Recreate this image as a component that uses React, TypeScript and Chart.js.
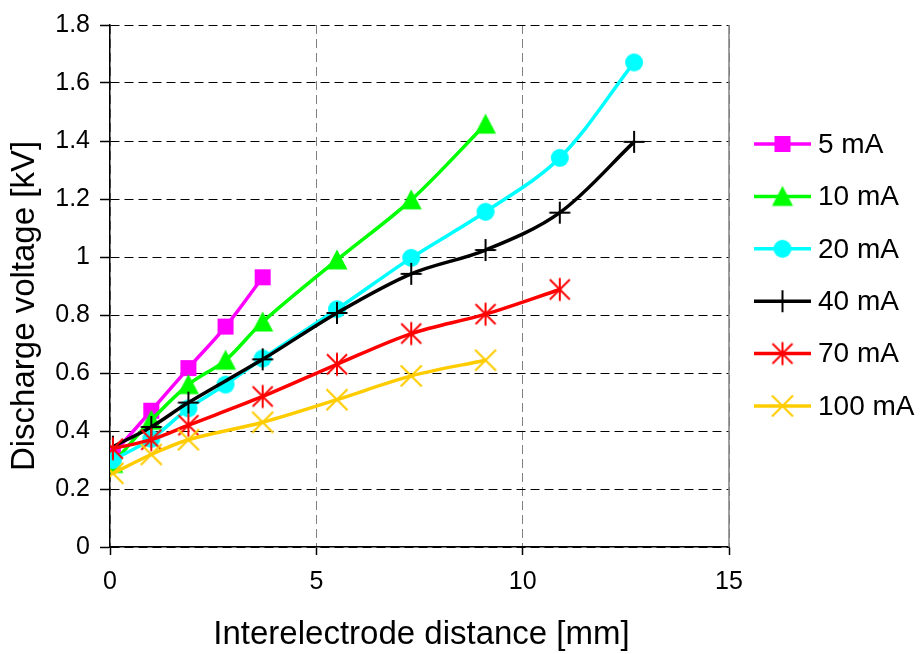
import React, { useEffect, useRef } from 'react';
import { Chart, registerables } from 'chart.js';

Chart.register(...registerables);

const FONT = '"Liberation Sans", Arial, sans-serif';

// Interelectrode distance [mm]
const distances = [0.07, 1.0, 1.9, 2.8, 3.7, 5.5, 7.3, 9.1, 10.9, 12.7];
const distancesNo28 = [0.07, 1.0, 1.9, 3.7, 5.5, 7.3, 9.1, 10.9, 12.7];

// Discharge voltage [kV]
const v5mA = [0.32, 0.47, 0.617, 0.76, 0.93];
const v10mA = [0.288, 0.437, 0.56, 0.644, 0.776, 0.99, 1.197, 1.458];
const v20mA = [0.3, 0.373, 0.478, 0.56, 0.65, 0.82, 0.997, 1.156, 1.342, 1.671];
const v40mA = [0.346, 0.414, 0.498, 0.647, 0.807, 0.942, 1.024, 1.153, 1.397];
const v70mA = [0.339, 0.37, 0.42, 0.519, 0.63, 0.736, 0.803, 0.888];
const v100mA = [0.254, 0.319, 0.37, 0.43, 0.508, 0.59, 0.644];

const seriesLabels = ['5 mA', '10 mA', '20 mA', '40 mA', '70 mA', '100 mA'];
const seriesColors = ['#FF00FF', '#00FF00', '#00FFFF', '#000000', '#FF0000', '#FFCC00'];
const markerKinds = ['square', 'triangle', 'circle', 'plus', 'asterisk', 'cross'];

const yTickLabels = ['0', '0.2', '0.4', '0.6', '0.8', '1', '1.2', '1.4', '1.6', '1.8'];
const xTickLabels = ['0', '5', '10', '15'];
const xTitle = 'Interelectrode distance [mm]';
const yTitle = 'Discharge voltage [kV]';

function makeMarker(kind: string, color: string): HTMLCanvasElement {
  const c = document.createElement('canvas');
  const s = 26;
  c.width = s;
  c.height = s;
  const ctx = c.getContext('2d') as CanvasRenderingContext2D;
  const m = s / 2;
  ctx.fillStyle = color;
  ctx.strokeStyle = color;
  ctx.lineWidth = 2;
  const line = (x1: number, y1: number, x2: number, y2: number) => {
    ctx.beginPath();
    ctx.moveTo(x1, y1);
    ctx.lineTo(x2, y2);
    ctx.stroke();
  };
  switch (kind) {
    case 'square':
      ctx.fillRect(m - 8, m - 8, 16, 16);
      break;
    case 'triangle':
      ctx.beginPath();
      ctx.moveTo(m, m - 10.5);
      ctx.lineTo(m + 10.5, m + 9.5);
      ctx.lineTo(m - 10.5, m + 9.5);
      ctx.closePath();
      ctx.fill();
      break;
    case 'circle':
      ctx.beginPath();
      ctx.arc(m, m, 9, 0, Math.PI * 2);
      ctx.fill();
      break;
    case 'plus':
      ctx.lineWidth = 2;
      line(m - 10.5, m, m + 10.5, m);
      line(m, m - 11, m, m + 11);
      break;
    case 'asterisk':
      ctx.lineWidth = 2;
      line(m, m - 11.5, m, m + 11.5);
      line(m - 10, m - 10, m + 10, m + 10);
      line(m + 10, m - 10, m - 10, m + 10);
      break;
    case 'cross':
      ctx.lineWidth = 2.2;
      line(m - 10.5, m - 10.5, m + 10.5, m + 10.5);
      line(m + 10.5, m - 10.5, m - 10.5, m + 10.5);
      break;
  }
  return c;
}

export default function App() {
  const canvasRef = useRef<HTMLCanvasElement | null>(null);

  useEffect(() => {
    const canvas = canvasRef.current;
    if (!canvas) return;

    const seriesValues = [v5mA, v10mA, v20mA, v40mA, v70mA, v100mA];
    const seriesX = [distances, distances, distances, distancesNo28, distancesNo28, distancesNo28];
    const markers = markerKinds.map((k, i) => makeMarker(k, seriesColors[i]));

    const datasets = seriesLabels.map((label, i) => ({
      label,
      data: seriesValues[i].map((v, j) => ({ x: seriesX[i][j], y: v })),
      borderColor: seriesColors[i],
      backgroundColor: seriesColors[i],
      borderWidth: 3.5,
      tension: 0.33,
      fill: false,
      showLine: true,
      pointStyle: markers[i] as any,
      pointRadius: 10,
      pointHoverRadius: 10,
      order: seriesLabels.length - i,
    }));

    const decor = {
      id: 'decor',
      beforeDatasetsDraw(chart: any) {
        const { ctx, chartArea } = chart;
        ctx.save();
        ctx.strokeStyle = '#808080';
        ctx.lineWidth = 1.5;
        ctx.beginPath();
        ctx.moveTo(chartArea.right, chartArea.top);
        ctx.lineTo(chartArea.right, chartArea.bottom);
        ctx.stroke();
        ctx.restore();
      },
      afterDraw(chart: any) {
        const { ctx, chartArea } = chart;
        ctx.save();
        ctx.fillStyle = '#000';
        ctx.textAlign = 'center';
        ctx.textBaseline = 'middle';
        ctx.font = `33px ${FONT}`;
        ctx.fillText(xTitle, (chartArea.left + chartArea.right) / 2 + 2, chartArea.bottom + 88);
        ctx.save();
        ctx.translate(25, (chartArea.top + chartArea.bottom) / 2 + 20);
        ctx.rotate(-Math.PI / 2);
        ctx.fillText(yTitle, 0, 0);
        ctx.restore();

        // legend
        const lx = chartArea.right + 25;
        ctx.font = `28px ${FONT}`;
        ctx.textAlign = 'left';
        seriesLabels.forEach((label, i) => {
          const y = 144 + i * 52.4;
          ctx.strokeStyle = seriesColors[i];
          ctx.lineWidth = 3.5;
          ctx.beginPath();
          ctx.moveTo(lx, y);
          ctx.lineTo(lx + 57, y);
          ctx.stroke();
          const mk = markers[i];
          ctx.drawImage(mk, lx + 28.5 - mk.width / 2, y - mk.height / 2);
          ctx.fillStyle = '#000';
          ctx.fillText(label, lx + 64, y + 1);
        });
        ctx.restore();
      },
    };

    const chart = new Chart(canvas, {
      type: 'line',
      data: { datasets: datasets as any },
      options: {
        responsive: false,
        animation: false,
        devicePixelRatio: 1,
        layout: { padding: { left: 0, top: 16, right: 191, bottom: 0 } },
        plugins: {
          legend: { display: false },
          tooltip: { enabled: false },
          title: { display: false },
        },
        scales: {
          x: {
            type: 'linear',
            min: 0,
            max: 15,
            ticks: {
              stepSize: 5,
              color: '#000',
              font: { family: FONT, size: 25 },
              padding: 12,
              maxRotation: 0,
              autoSkip: false,
              callback: (v: any, i: number) => xTickLabels[i] ?? String(v),
            },
            grid: {
              color: '#808080',
              lineWidth: 1,
              tickLength: 8,
              tickColor: '#000',
              tickWidth: 1.5,
            },
            border: { display: true, color: '#000', width: 1.5, dash: [9, 5] },
            afterFit: (s: any) => {
              s.height = 107;
            },
          },
          y: {
            type: 'linear',
            min: 0,
            max: 1.8,
            ticks: {
              stepSize: 0.2,
              color: '#000',
              font: { family: FONT, size: 25 },
              padding: 10,
              callback: (v: any, i: number) => yTickLabels[i] ?? String(+Number(v).toFixed(1)),
            },
            grid: {
              color: '#000',
              lineWidth: 1,
              tickLength: 10,
              tickColor: '#000',
              tickWidth: 1.5,
            },
            border: { display: true, color: '#000', width: 1.5, dash: [9, 5] },
            afterFit: (s: any) => {
              s.width = 110;
            },
          },
        },
      } as any,
      plugins: [decor],
    });

    return () => chart.destroy();
  }, []);

  return (
    <div style={{ position: 'fixed', left: 0, top: 0, width: 920, height: 654, background: '#fff' }}>
      <canvas ref={canvasRef} width={920} height={654} style={{ width: 920, height: 654, display: 'block' }} />
    </div>
  );
}
